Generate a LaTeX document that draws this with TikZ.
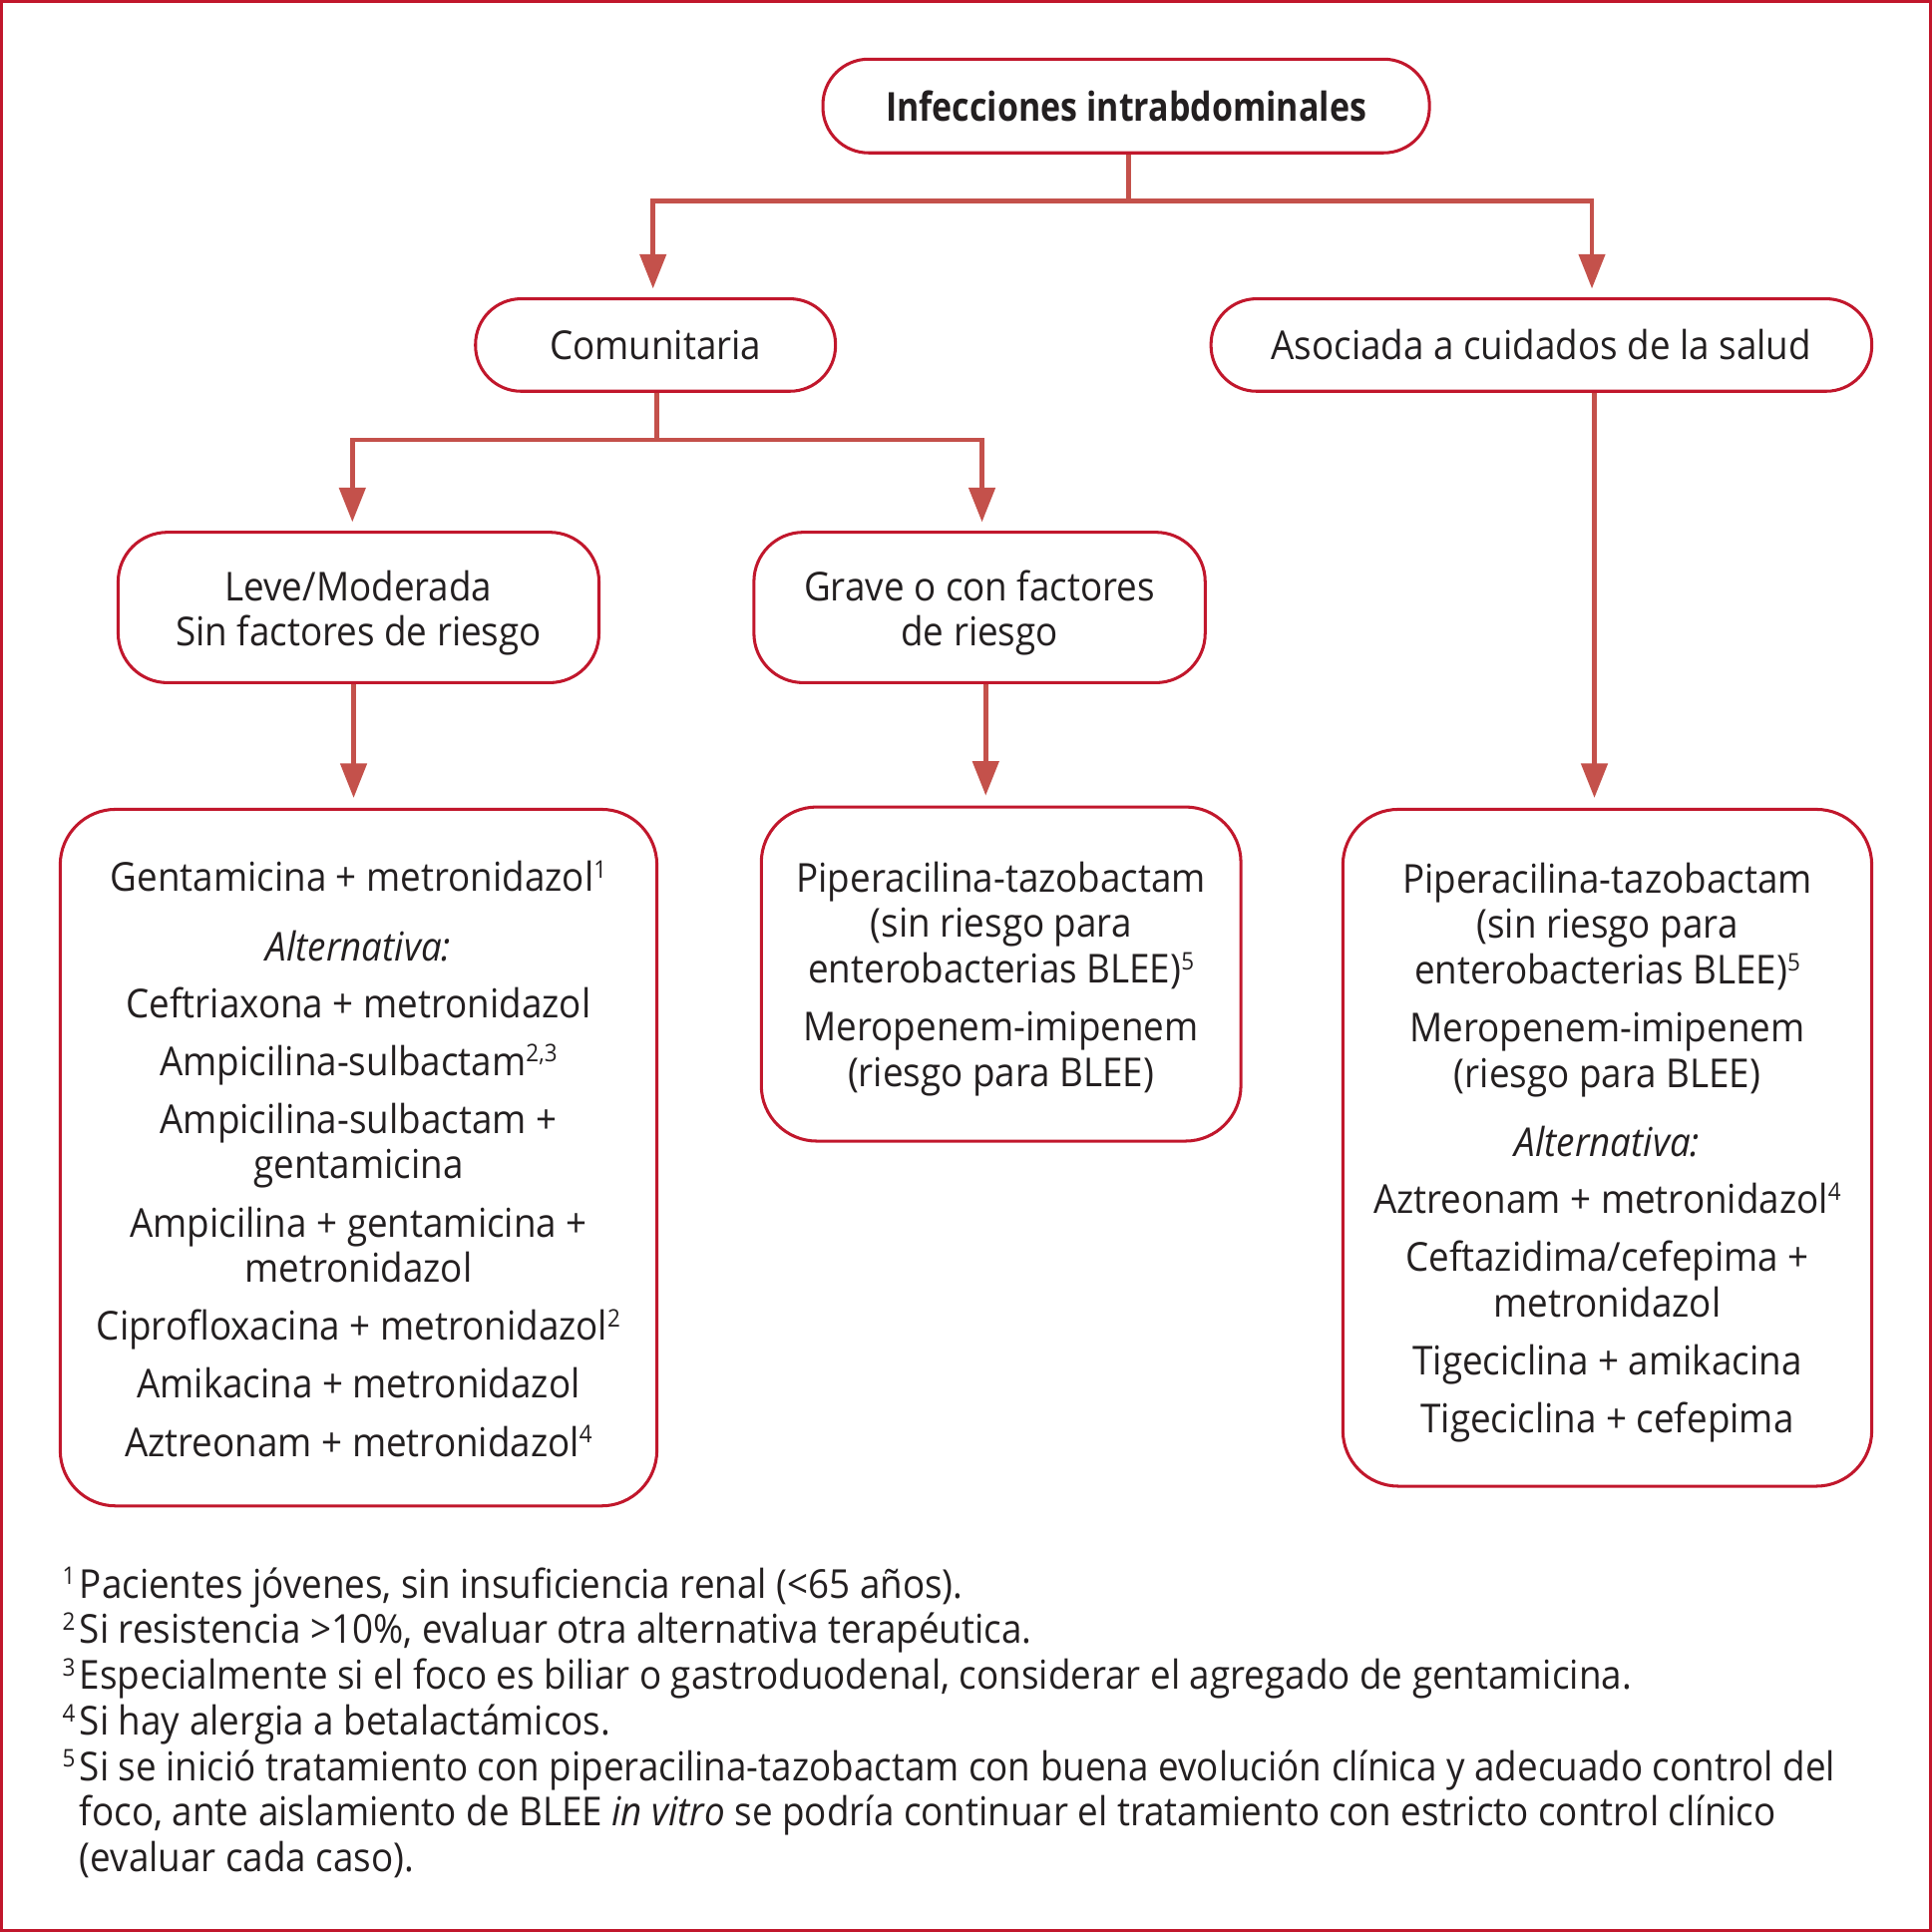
\documentclass[tikz,border=0pt]{standalone}
\usepackage{fontspec}
\setmainfont[FakeStretch=0.92, BoldFeatures={FakeStretch=0.85}]{Open Sans}
\usetikzlibrary{arrows.meta}
\definecolor{boxred}{HTML}{C1172C}
\definecolor{lnred}{HTML}{C4514B}
\definecolor{txt}{HTML}{231F20}
\newcommand\sups[1]{\smash{\raisebox{0.62ex}{\fontsize{5.6}{6}\selectfont #1}}}
\newcommand\tstrut[1]{\rule{0pt}{#1}}
\newcommand\fnm[1]{\makebox[1.4mm][l]{\sups{#1}}}
\begin{document}
\begin{tikzpicture}[x=0.01cm,y=-0.01cm,
  font=\fontsize{9.2}{10.53}\selectfont, text=txt,
  box/.style={draw=boxred, line width=0.7pt, align=center, inner sep=0pt},
  conn/.style={draw=lnred, line width=1.1pt},
  arr/.style={conn, -{Triangle[length=2.8mm,width=2.1mm]}, shorten >=0.7mm}]
\useasboundingbox (0,0) rectangle (1568,1568);
\draw[draw=boxred, line width=0.75pt] (1.3,1.3) rectangle (1566.7,1566.7);

\node[box, rounded corners=3.7mm, minimum width=49.2mm, minimum height=7.6mm, font=\fontsize{9.2}{10.53}\selectfont\bfseries] (top) at (914,86) {Infecciones intrabdominales};
\node[box, rounded corners=3.7mm, minimum width=29.2mm, minimum height=7.5mm] (com) at (532,280) {Comunitaria};
\node[box, rounded corners=3.7mm, minimum width=53.6mm, minimum height=7.5mm] (asoc) at (1251,280) {Asociada a cuidados de la salud};
\node[box, rounded corners=4mm, minimum width=39mm, minimum height=12.2mm] (leve) at (291,493) {\tstrut{9.6pt}Leve/Moderada\\Sin factores de riesgo};
\node[box, rounded corners=4mm, minimum width=36.6mm, minimum height=12.2mm] (grave) at (795,493) {\tstrut{9.6pt}Grave o con factores\\de riesgo};

\node[box, rounded corners=4.5mm, minimum width=48.4mm, minimum height=56.5mm] (b1) at (291,939.5) {\tstrut{7.6pt}Gentamicina + metronidazol\sups{1}\\[5.4pt]
\textit{Alternativa:}\\[2.6pt]
Ceftriaxona + metronidazol\\[2.84pt]
Ampicilina-sulbactam\sups{2,3}\\[2.84pt]
Ampicilina-sulbactam +\\gentamicina\\[2.84pt]
Ampicilina + gentamicina +\\metronidazol\\[2.84pt]
Ciprofloxacina + metronidazol\sups{2}\\[2.84pt]
Amikacina + metronidazol\\[2.84pt]
Aztreonam + metronidazol\sups{4}};

\node[box, rounded corners=4.5mm, minimum width=38.9mm, minimum height=27.1mm] (b2) at (812.5,790.5) {\tstrut{9.2pt}Piperacilina-tazobactam\\(sin riesgo para\\enterobacterias BLEE)\sups{5}\\[2.84pt]
Meropenem-imipenem\\(riesgo para BLEE)};

\node[box, rounded corners=4.5mm, minimum width=42.9mm, minimum height=54.9mm] (b3) at (1304.5,931.5) {\tstrut{9.2pt}Piperacilina-tazobactam\\(sin riesgo para\\enterobacterias BLEE)\sups{5}\\[2.84pt]
Meropenem-imipenem\\(riesgo para BLEE)\\[5.4pt]
\textit{Alternativa:}\\[2.6pt]
Aztreonam + metronidazol\sups{4}\\[2.84pt]
Ceftazidima/cefepima +\\metronidazol\\[2.84pt]
Tigeciclina + amikacina\\[2.84pt]
Tigeciclina + cefepima};

\node[anchor=base west, inner sep=0pt, align=left] (fn) at (50,1519) {\fnm{1}Pacientes jóvenes, sin insuficiencia renal (<65 años).\\
\fnm{2}Si resistencia >10\%, evaluar otra alternativa terapéutica.\\
\fnm{3}Especialmente si el foco es biliar o gastroduodenal, considerar el agregado de gentamicina.\\
\fnm{4}Si hay alergia a betalactámicos.\\
\fnm{5}Si se inició tratamiento con piperacilina-tazobactam con buena evolución clínica y adecuado control del\\
\hspace*{1.4mm}foco, ante aislamiento de BLEE \textit{in vitro} se podría continuar el tratamiento con estricto control clínico\\
\hspace*{1.4mm}(evaluar cada caso).};

\coordinate (j1) at (916,163);
\coordinate (xl1) at (530,0);
\coordinate (xr1) at (1292,0);
\draw[conn] (top.south -| j1) -- (j1);
\draw[arr] (j1) -| (com.north -| xl1);
\draw[arr] (j1) -| (asoc.north -| xr1);

\coordinate (j2) at (533,357);
\coordinate (xl2) at (286,0);
\coordinate (xr2) at (797,0);
\draw[conn] (com.south -| j2) -- (j2);
\draw[arr] (j2) -| (leve.north -| xl2);
\draw[arr] (j2) -| (grave.north -| xr2);

\coordinate (x3) at (287,0);
\coordinate (x4) at (800,0);
\coordinate (x5) at (1294,0);
\draw[arr, shorten >=0.8mm] (leve.south -| x3) -- (b1.north -| x3);
\draw[arr, shorten >=0.8mm] (grave.south -| x4) -- (b2.north -| x4);
\draw[arr, shorten >=0.8mm] (asoc.south -| x5) -- (b3.north -| x5);
\end{tikzpicture}
\end{document}
